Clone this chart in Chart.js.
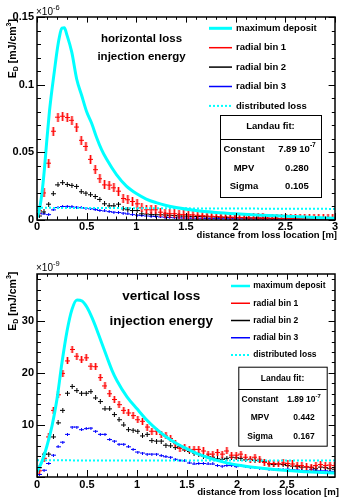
<!DOCTYPE html>
<html><head><meta charset="utf-8">
<script src="https://cdn.jsdelivr.net/npm/chart.js@4.4.1/dist/chart.umd.min.js"></script>
<style>
html,body{margin:0;padding:0;background:#fff;}
#wrap{position:relative;width:340px;height:497px;overflow:hidden;background:#fff;}
#c1{position:absolute;left:0;top:0;}
#c2{position:absolute;left:0;top:248px;}
</style></head><body>
<div id="wrap"><canvas id="c1" width="340" height="248"></canvas><canvas id="c2" width="340" height="249"></canvas></div>
<script>
// ---------- data ----------
const binCenters = [0.0234,0.0703,0.1172,0.1641,0.2109,0.2578,0.3047,0.3516,0.3984,0.4453,0.4922,0.5391,0.5859,0.6328,0.6797,0.7266,0.7734,0.8203,0.8672,0.9141,0.9609,1.0078,1.0547,1.1016,1.1484,1.1953,1.2422,1.2891,1.3359,1.3828,1.4297,1.4766,1.5234,1.5703,1.6172,1.6641,1.7109,1.7578,1.8047,1.8516,1.8984,1.9453,1.9922,2.0391,2.0859,2.1328,2.1797,2.2266,2.2734,2.3203,2.3672,2.4141,2.4609,2.5078,2.5547,2.6016,2.6484,2.6953,2.7422,2.7891,2.8359,2.8828,2.9297,2.9766];

// top panel (units 1e-6 mJ/cm3)
const topMaxX = [0,0.025,0.05,0.075,0.1,0.125,0.15,0.175,0.2,0.225,0.25,0.275,0.3,0.35,0.4,0.45,0.5,0.55,0.6,0.65,0.7,0.8,0.9,1.0,1.1,1.2,1.3,1.4,1.6,1.8,2.0,2.25,2.5,2.75,3.0];
const topMaxY = [0.002,0.008,0.020,0.038,0.060,0.080,0.096,0.110,0.124,0.135,0.1418,0.1420,0.137,0.124,0.104,0.092,0.080,0.0715,0.061,0.052,0.045,0.0335,0.025,0.0195,0.0155,0.0128,0.0107,0.0092,0.0070,0.0056,0.0046,0.0036,0.0028,0.0020,0.0013];
const topRed = [0.007,0.020,0.042,0.0656,0.076,0.0767,0.0757,0.0737,0.0687,0.0589,0.0544,0.0448,0.0372,0.0305,0.026,0.0258,0.0238,0.0213,0.0159,0.015,0.0137,0.012,0.009,0.0076,0.0076,0.0076,0.0058,0.005,0.0047,0.0047,0.0042,
  0.0040,0.0038,0.0038,0.0035,0.0032,0.0030,0.0028,0.0026,0.0024,0.0022,0.0021,0.0020,0.0019,0.0018,0.0017,0.0016,0.0015,0.0015,0.0014,0.0013,0.0013,0.0012,0.0012,0.0011,0.0011,0.0010,0.0010,0.0010,0.0009,0.0009,0.0009,0.0008,0.0008];
const topBlack = [0.003,0.006,0.0117,0.0194,0.026,0.0276,0.0263,0.0256,0.0248,0.0209,0.0199,0.0187,0.0174,0.0152,0.012,0.0105,0.0105,0.0117,0.0083,0.0076,0.007,0.007,0.0046,0.0044,0.0040,0.0039,0.0039,0.0037,0.0035,0.0033,0.0030,
  0.0029,0.0028,0.0027,0.0026,0.0025,0.0024,0.0023,0.0022,0.0021,0.0020,0.0019,0.0018,0.0017,0.0016,0.0015,0.0015,0.0014,0.0013,0.0013,0.0012,0.0012,0.0011,0.0011,0.0010,0.0010,0.0010,0.0009,0.0009,0.0009,0.0008,0.0008,0.0008,0.0007];
const topBlue = [0.005,0.0045,0.004,0.0075,0.0092,0.0100,0.0101,0.0098,0.0095,0.0091,0.0088,0.0083,0.0077,0.0071,0.0067,0.0062,0.0058,0.0055,0.0051,0.0045,0.0040,0.0036,0.0033,0.0030,0.0028,0.0026,0.0023,0.0021,0.0019,0.0017,0.0016,
  0.0015,0.0014,0.0014,0.0013,0.0013,0.0012,0.0012,0.0011,0.0011,0.0010,0.0010,0.0010,0.0009,0.0009,0.0009,0.0008,0.0008,0.0008,0.0008,0.0007,0.0007,0.0007,0.0007,0.0006,0.0006,0.0006,0.0006,0.0006,0.0005,0.0005,0.0005,0.0005,0.0005];
const topDistX = [0, 1.5, 3];
const topDistY = [0.0090, 0.0086, 0.0082];

// bottom panel (units 1e-9 mJ/cm3)
const botMaxX = [0,0.05,0.1,0.15,0.2,0.25,0.3,0.35,0.4,0.45,0.5,0.55,0.6,0.65,0.7,0.75,0.8,0.9,1.0,1.1,1.2,1.3,1.4,1.5,1.6,1.7,1.8,2.0,2.25,2.5,2.75,2.98];
const botMaxY = [1.0,3.0,6.0,9.8,15.0,22.0,28.0,32.2,34.0,33.8,32.6,30.6,28.2,25.6,23.0,20.5,18.5,15.4,13.1,10.9,9.1,7.6,6.4,5.4,4.5,3.8,3.2,2.3,1.7,1.25,0.95,0.75];
const botRed = [1.2,3.6,7.7,12.8,15.8,19.9,22.3,24.5,23.2,22.5,22.9,21.3,21.2,19.1,17.5,16.0,14.9,13.9,12.8,12.3,11.8,11.0,10.7,9.6,8.8,8.8,8.2,7.9,7.4,6.4,5.5,
  5.6,5.3,5.3,5.3,5.0,4.4,4.4,4.7,4.4,5.0,4.2,4.2,4.4,3.8,3.4,3.8,3.4,2.8,2.6,2.6,2.5,2.7,2.6,2.5,2.2,2.2,2.0,1.9,2.2,2.4,2.2,2.3,2.2];
const botBlack = [1.8,4.4,4.4,7.7,10.4,12.8,16.1,17.4,16.6,16.1,16.1,16.4,15.2,14.5,13.1,13.1,12.0,11.0,10.0,9.1,9.0,8.8,7.9,8.2,7.0,6.9,6.9,6.1,6.0,5.65,5.8,
  5.2,4.9,4.6,4.4,4.0,3.9,3.8,3.5,3.4,3.6,3.8,3.7,3.6,3.3,3.4,3.2,3.1,3.0,2.5,2.4,2.5,2.4,2.2,2.1,2.0,1.9,1.9,1.8,1.6,1.9,1.8,1.6,1.5];
const botBlue = [0.5,1.3,2.6,4.2,5.8,6.7,8.2,9.6,9.6,9.1,9.3,9.4,8.8,8.2,8.2,7.2,6.9,6.3,6.3,5.8,5.3,4.8,4.6,4.4,4.4,4.4,4.1,3.9,3.8,3.4,3.2,
  3.1,2.7,2.5,2.6,2.6,2.5,2.5,2.2,2.1,2.2,2.2,2.0,2.2,2.0,1.9,1.85,1.7,1.6,1.5,1.4,1.5,1.35,1.5,1.4,1.35,1.2,1.2,1.4,1.3,1.2,1.2,1.1,1.1];
const botDistX = [0, 2.98];
const botDistY = [3.2, 3.15];

// ticks and labels
const topXTicks = [0,0.5,1,1.5,2,2.5,3];
const topXLabels = ['0','0.5','1','1.5','2','2.5','3'];
const topYTicks = [0,0.05,0.1,0.15];
const topYLabels = ['0','0.05','0.1','0.15'];
const botXTicks = [0,0.5,1,1.5,2,2.5];
const botXLabels = ['0','0.5','1','1.5','2','2.5'];
const botYTicks = [10,20,30];
const botYLabels = ['10','20','30'];

const legendLabels = ['maximum deposit','radial bin 1','radial bin 2','radial bin 3','distributed loss'];
const topTitle = ['horizontal loss','injection energy'];
const botTitle = ['vertical loss','injection energy'];
const xAxisTitle = 'distance from loss location [m]';
const fitHeader = 'Landau fit:';
const fitNames = ['Constant','MPV','Sigma'];
const topFitValues = ['7.89 10^-7','0.280','0.105'];
const botFitValues = ['1.89 10^-7','0.442','0.167'];

// ---------- helpers ----------
const FAM = '"Liberation Sans", Arial, Helvetica, sans-serif';
const pts = (xs, ys) => xs.map((x, i) => ({x: x, y: ys[i]}));
function labelFor(vals, labels, v) {
  const i = vals.findIndex(t => Math.abs(t - v) < 1e-9);
  return i >= 0 ? labels[i] : '';
}
function crossMarker(w, h, color, halo) {
  const c = document.createElement('canvas');
  c.width = w; c.height = h;
  const g = c.getContext('2d');
  if (halo) { g.fillStyle = halo; g.fillRect((w - 3) / 2, 0, 3, h); }
  g.fillStyle = color;
  g.fillRect(0, Math.floor(h / 2), w, 1);
  g.fillRect(Math.floor(w / 2), 0, 1, h);
  return c;
}
function fontStr(p) { return (p.bold === false ? '' : 'bold ') + p.size + 'px ' + FAM; }
function richWidth(c, parts) {
  let w = 0;
  for (const p of parts) { c.font = fontStr(p); w += c.measureText(p.t).width; }
  return w;
}
function drawRich(c, parts, x, y, align) {
  const w = richWidth(c, parts);
  let cx = align === 'center' ? x - w / 2 : (align === 'right' ? x - w : x);
  c.textAlign = 'left'; c.textBaseline = 'middle';
  for (const p of parts) {
    c.font = fontStr(p);
    c.fillText(p.t, cx, y + (p.dy || 0));
    cx += c.measureText(p.t).width;
  }
}
function valueParts(s, size) {
  const k = s.indexOf('^');
  if (k < 0) return [{t: s, size: size}];
  return [{t: s.slice(0, k), size: size}, {t: s.slice(k + 1), size: size * 0.7, dy: -size * 0.4}];
}
function steps(min, max, step, fn) {
  const start = Math.ceil(min / step - 1e-6);
  for (let k = start; k * step <= max + 1e-9; k++) fn(k * step, k);
}

const rootPlugin = {
  id: 'rootDecor',
  afterDraw(chart, args, o) {
    const c = chart.ctx, a = chart.chartArea, sx = chart.scales.x, sy = chart.scales.y;
    c.save();
    c.fillStyle = '#000'; c.strokeStyle = '#000'; c.lineWidth = 1;
    // inside ticks on all four sides
    steps(sx.min, sx.max, o.xMinor, (v, k) => {
      const p = Math.round(sx.getPixelForValue(v)) + 0.5;
      const L = (k % o.ratio === 0) ? o.xMajorLen : o.xMinorLen;
      c.beginPath();
      c.moveTo(p, a.bottom); c.lineTo(p, a.bottom - L);
      c.moveTo(p, a.top); c.lineTo(p, a.top + L * 0.8);
      c.stroke();
    });
    steps(sy.min, sy.max, o.yMinor, (v, k) => {
      const p = Math.round(sy.getPixelForValue(v)) + 0.5;
      const L = (k % o.ratio === 0) ? o.yMajorLen : o.yMinorLen;
      c.beginPath();
      c.moveTo(a.left, p); c.lineTo(a.left + L, p);
      c.moveTo(a.right, p); c.lineTo(a.right - L * 0.8, p);
      c.stroke();
    });
    c.lineWidth = 1.5;
    c.strokeRect(a.left, a.top, a.right - a.left, a.bottom - a.top);

    // exponent label
    drawRich(c, [{t: '\u00d710', size: 10, bold: false}, {t: o.exp, size: 7.5, bold: false, dy: -4.5}], a.left - 1, o.expY, 'left');

    // y title (rotated)
    c.save();
    c.translate(o.yTitleX, o.yTitleY);
    c.rotate(-Math.PI / 2);
    drawRich(c, [{t: 'E', size: 10.5}, {t: 'D', size: 7, dy: 3}, {t: ' [mJ/cm', size: 10.5}, {t: '3', size: 7, dy: -4}, {t: ']', size: 10.5}], 0, 0, 'right');
    c.restore();

    // x title
    drawRich(c, [{t: xAxisTitle, size: o.xTitleSize}], o.xTitleX, o.xTitleY, 'right');

    // panel titles
    o.titles.forEach((t, i) => drawRich(c, [{t: t, size: o.titleSize}], o.titleX, o.titleY[i], 'center'));

    // legend
    const L = o.legend;
    const styles = [
      {color: '#00ffff', w: L.w0, dash: []},
      {color: '#ff0000', w: L.w1, dash: []},
      {color: '#000000', w: L.w1, dash: []},
      {color: '#0000ff', w: L.w1, dash: []},
      {color: '#00ffff', w: 2, dash: [2, 2]}
    ];
    legendLabels.forEach((lab, i) => {
      const y = L.y0 + i * L.dy;
      const s = styles[i];
      c.beginPath(); c.strokeStyle = s.color; c.lineWidth = s.w; c.setLineDash(s.dash);
      c.moveTo(L.x1, y); c.lineTo(L.x2, y); c.stroke();
      c.setLineDash([]);
      c.fillStyle = '#000';
      drawRich(c, [{t: lab, size: L.size}], L.tx, y, 'left');
    });

    // fit box
    const B = o.box;
    c.fillStyle = '#fff'; c.fillRect(B.x, B.y, B.w, B.h);
    c.strokeStyle = '#000'; c.lineWidth = 1;
    c.strokeRect(B.x + 0.5, B.y + 0.5, B.w, B.h);
    c.beginPath(); c.moveTo(B.x, B.sepY + 0.5); c.lineTo(B.x + B.w, B.sepY + 0.5); c.stroke();
    c.fillStyle = '#000';
    drawRich(c, [{t: fitHeader, size: B.size}], B.x + B.w / 2, B.headerY, 'center');
    fitNames.forEach((n, i) => {
      drawRich(c, [{t: n, size: B.size}], B.lx, B.rows[i], 'center');
      drawRich(c, valueParts(B.values[i], B.size), B.vx, B.rows[i], 'center');
    });
    c.restore();
  }
};

function pointSet(label, xs, ys, img, order) {
  return {label: label, data: pts(xs, ys), showLine: false, pointStyle: img, pointRadius: 2, order: order};
}
function lineSet(label, xs, ys, color, width, dash, order) {
  return {label: label, data: pts(xs, ys), showLine: true, borderColor: color, borderWidth: width,
          borderDash: dash, pointRadius: 0, cubicInterpolationMode: 'monotone', fill: false, order: order};
}

function makeChart(id, cfg) {
  const tickFont = {family: FAM, weight: 'bold', size: 11};
  return new Chart(document.getElementById(id), {
    type: 'scatter',
    data: {datasets: cfg.datasets},
    options: {
      responsive: false, animation: false, events: [], devicePixelRatio: 1,
      layout: {padding: cfg.padding},
      plugins: {legend: {display: false}, tooltip: {enabled: false}, rootDecor: cfg.decor},
      scales: {
        x: {type: 'linear', min: cfg.xMin, max: cfg.xMax, grid: {display: false, drawTicks: false}, border: {display: false},
            afterBuildTicks: s => { s.ticks = cfg.xTicks.map(v => ({value: v})); },
            afterFit: s => { s.height = cfg.xHeight; },
            ticks: {callback: v => labelFor(cfg.xTicks, cfg.xLabels, v), font: tickFont, color: '#000',
                    padding: cfg.xPad, maxRotation: 0, autoSkip: false}},
        y: {type: 'linear', min: cfg.yMin, max: cfg.yMax, grid: {display: false, drawTicks: false}, border: {display: false},
            afterBuildTicks: s => { s.ticks = cfg.yTicks.map(v => ({value: v})); },
            afterFit: s => { s.width = 37; },
            ticks: {callback: v => labelFor(cfg.yTicks, cfg.yLabels, v), font: tickFont, color: '#000',
                    padding: 3, autoSkip: false}}
      }
    },
    plugins: [rootPlugin]
  });
}

// markers
const redTop = crossMarker(5, 9, '#ff0000', 'rgba(255,0,0,0.35)');
const blackTop = crossMarker(5, 5, '#000000');
const blueTop = crossMarker(5, 3, '#0000ff');
const redBot = crossMarker(5, 7, '#ff0000', 'rgba(255,0,0,0.35)');
const blackBot = crossMarker(5, 5, '#000000');
const blueBot = crossMarker(5, 3, '#0000ff');

makeChart('c1', {
  padding: {left: 0, right: 3, top: 17, bottom: 0},
  xMin: 0, xMax: 3, yMin: 0, yMax: 0.15, xHeight: 28, xPad: 0,
  xTicks: topXTicks, xLabels: topXLabels, yTicks: topYTicks, yLabels: topYLabels,
  datasets: [
    pointSet('radial bin 1', binCenters, topRed, redTop, 2),
    pointSet('radial bin 2', binCenters, topBlack, blackTop, 3),
    pointSet('radial bin 3', binCenters, topBlue, blueTop, 4),
    lineSet('maximum deposit', topMaxX, topMaxY, '#00ffff', 3, [], 1),
    lineSet('distributed loss', topDistX, topDistY, '#00ffff', 2, [2, 2], 0)
  ],
  decor: {
    xMinor: 0.1, yMinor: 0.01, ratio: 5, xMajorLen: 7, xMinorLen: 3.5, yMajorLen: 8, yMinorLen: 4,
    exp: '-6', expY: 12, yTitleX: 13.5, yTitleY: 19,
    xTitleX: 337, xTitleY: 235, xTitleSize: 9.5,
    titles: topTitle, titleX: 141.5, titleY: [39, 57], titleSize: 11.5,
    legend: {x1: 209, x2: 232, tx: 236, y0: 28.3, dy: 19.4, size: 9.5, w0: 3, w1: 1.5},
    box: {x: 220, y: 115, w: 101, h: 82, headerY: 126.7, sepY: 139, rows: [149.3, 168.3, 186.7],
          lx: 244, vx: 297, size: 9.5, values: topFitValues}
  }
});

makeChart('c2', {
  padding: {left: 0, right: 2, top: 26, bottom: 0},
  xMin: 0, xMax: 2.98, yMin: 0, yMax: 39, xHeight: 20, xPad: 1.4,
  xTicks: botXTicks, xLabels: botXLabels, yTicks: botYTicks, yLabels: botYLabels,
  datasets: [
    pointSet('radial bin 1', binCenters, botRed, redBot, 2),
    pointSet('radial bin 2', binCenters, botBlack, blackBot, 3),
    pointSet('radial bin 3', binCenters, botBlue, blueBot, 4),
    lineSet('maximum deposit', botMaxX, botMaxY, '#00ffff', 3, [], 1),
    lineSet('distributed loss', botDistX, botDistY, '#00ffff', 2, [2, 2], 0)
  ],
  decor: {
    xMinor: 0.1, yMinor: 2, ratio: 5, xMajorLen: 7, xMinorLen: 3.5, yMajorLen: 8, yMinorLen: 4,
    exp: '-9', expY: 20.3, yTitleX: 13.5, yTitleY: 23.7,
    xTitleX: 339, xTitleY: 244.3, xTitleSize: 9.6,
    titles: botTitle, titleX: 161.3, titleY: [48, 73.7], titleSize: 13.5,
    legend: {x1: 231, x2: 250, tx: 253.3, y0: 38, dy: 17.25, size: 8.5, w0: 2.5, w1: 1.5},
    box: {x: 238.3, y: 118.7, w: 88.4, h: 79, headerY: 130.3, sepY: 141, rows: [152, 169.7, 188.7],
          lx: 260, vx: 304, size: 8.5, values: botFitValues}
  }
});
</script>
</body></html>
